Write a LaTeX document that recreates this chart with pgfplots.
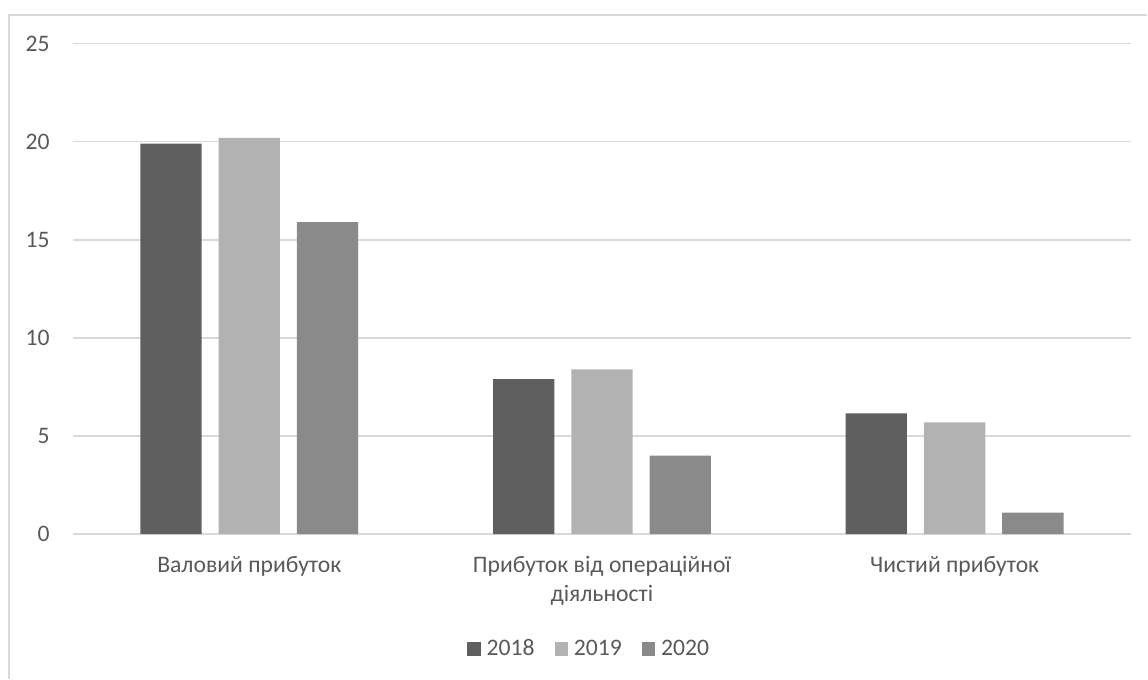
\documentclass[border=0pt]{standalone}
\usepackage{pgfplots}
\pgfplotsset{compat=1.18}
\usepackage{fontspec}
\setmainfont{Carlito}
\definecolor{txt}{HTML}{595959}
\definecolor{gridc}{HTML}{D9D9D9}
\definecolor{cA}{HTML}{5F5F5F}
\definecolor{cB}{HTML}{B2B2B2}
\definecolor{cC}{HTML}{8A8A8A}
\newcommand\lf{\fontsize{14.2}{17.4}\selectfont}
\begin{document}
\begin{tikzpicture}
\path (-43.8pt,-86.7pt) rectangle (645pt,320.7pt);
\draw[gridc, line width=0.9pt] (-38.4pt,-86.7pt) -- (-38.4pt,311.7pt) -- (645pt,311.7pt);
\begin{axis}[
  at={(0,0)}, anchor=south west,
  scale only axis, width=635.2pt, height=294.5pt,
  ybar=10.2pt, bar width=36.8pt,
  xmin=-0.5, xmax=2.5, ymin=0, ymax=25,
  xtick=data,
  xticklabels={Валовий прибуток,{\begin{tabular}[t]{@{}c@{}}Прибуток від операційної\\діяльності\end{tabular}},Чистий прибуток},
  ytick={0,5,...,25},
  axis line style={draw=none},
  major tick length=0pt,
  ymajorgrids, xmajorgrids=false,
  grid style={draw=gridc, line width=0.9pt},
  /pgf/number format/assume math mode=true,
  tick label style={font=\lf, text=txt},
  yticklabel style={anchor=east, inner sep=0pt, xshift=-13.8pt},
  xticklabel style={anchor=base, inner sep=0pt, yshift=-23.3pt},
  legend columns=3,
  legend style={at={(0.487,-0.234)}, anchor=center, draw=none, font=\lf, text=txt,
    nodes={inner xsep=0pt, inner ysep=1pt},
    /tikz/every even column/.append style={column sep=12pt},
    /tikz/every odd column/.append style={column sep=3.6pt}},
  legend image code/.code={\fill[#1] (0pt,-4pt) rectangle (8pt,4pt);},
]
\addplot[fill=cA, draw=none] coordinates {(0,19.9) (1,7.9) (2,6.15)};
\addplot[fill=cB, draw=none] coordinates {(0,20.2) (1,8.4) (2,5.7)};
\addplot[fill=cC, draw=none] coordinates {(0,15.9) (1,4.0) (2,1.1)};
\legend{2018,2019,2020}
\end{axis}
\end{tikzpicture}
\end{document}
